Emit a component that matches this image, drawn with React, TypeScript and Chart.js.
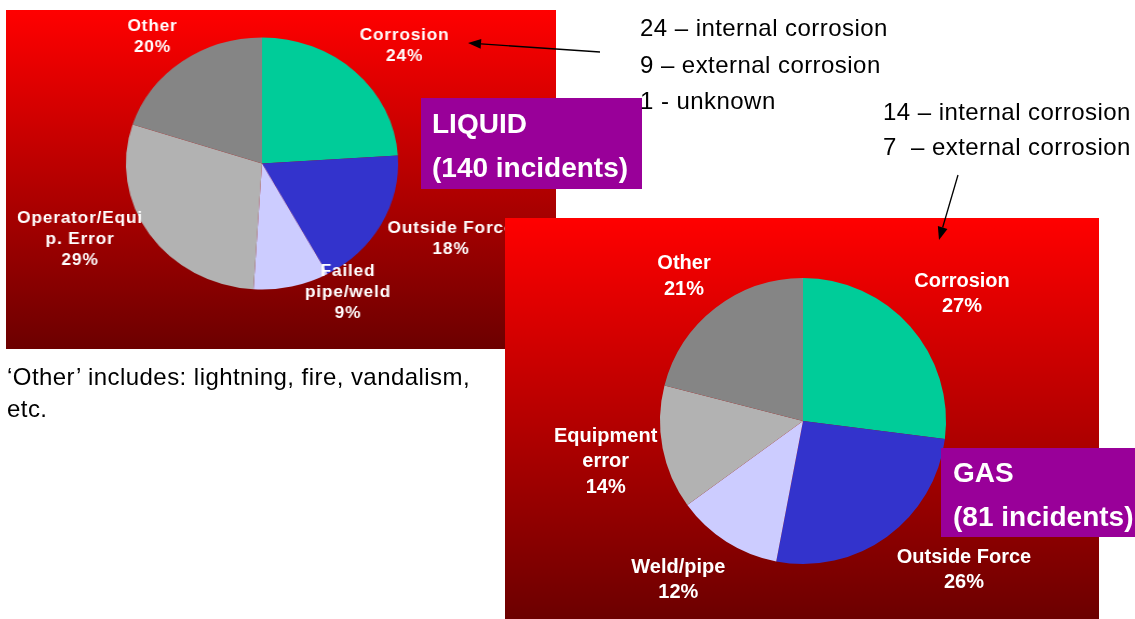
import React, { useEffect, useRef } from "react";
import { Chart, registerables } from "chart.js";

Chart.register(...registerables);

// ---- data ----
const liquidCategories = ["Corrosion", "Outside Force", "Failed\npipe/weld", "Operator/Equi\np. Error", "Other"];
const liquidValues = [24, 18, 9, 29, 20];
const gasCategories = ["Corrosion", "Outside Force", "Weld/pipe", "Equipment\nerror", "Other"];
const gasValues = [27, 26, 12, 14, 21];
const liquidTitle = ["LIQUID", "(140 incidents)"];
const gasTitle = ["GAS", "(81 incidents)"];
const liquidNotes = ["24 \u2013 internal corrosion", "9 \u2013 external corrosion", "1 - unknown"];
const gasNotes = ["14 \u2013 internal corrosion", "7  \u2013 external corrosion"];
const footNote = ["\u2018Other\u2019 includes: lightning, fire, vandalism,", "etc."];

// ---- styles / layout ----
const sliceColors = ["#00CC99", "#3333CC", "#CCCCFF", "#B2B2B2", "#858585"];
const liquidLabelOffsets: [number, number][] = [
  [132, -124],
  [175, 69.5],
  [79.6, 112.5],
  [-168.5, 59.5],
  [-101.4, -132.5],
];
const gasLabelOffsets: [number, number][] = [
  [159, -134.3],
  [161, 141.7],
  [-124.7, 151.7],
  [-197.3, 20.7],
  [-119, -151.7],
];
const FONT = "'Liberation Sans', Arial, Helvetica, sans-serif";

type PieProps = {
  labels: string[];
  values: number[];
  width: number;
  height: number;
  padding: { left: number; right: number; top: number; bottom: number };
  offsets: [number, number][];
  font: string;
  lineH: number;
  spacing: string;
  canvasStyle?: React.CSSProperties;
};

function PieChart({ labels, values, width, height, padding, offsets, font, lineH, spacing, canvasStyle }: PieProps) {
  const ref = useRef<HTMLCanvasElement>(null);
  useEffect(() => {
    if (!ref.current) return;
    const total = values.reduce((a, b) => a + b, 0);
    const labelPlugin = {
      id: "sliceLabels",
      afterDatasetsDraw(chart: any) {
        const ctx = chart.ctx as CanvasRenderingContext2D;
        const meta = chart.getDatasetMeta(0);
        ctx.save();
        ctx.font = font;
        ctx.fillStyle = "#ffffff";
        ctx.textAlign = "center";
        ctx.textBaseline = "alphabetic";
        (ctx as any).letterSpacing = spacing;
        meta.data.forEach((arc: any, i: number) => {
          const lines = [...labels[i].split("\n"), Math.round((values[i] / total) * 100) + "%"];
          const [dx, dy] = offsets[i];
          lines.forEach((t, k) => ctx.fillText(t, arc.x + dx, arc.y + dy + k * lineH));
        });
        ctx.restore();
      },
    };
    const chart = new Chart(ref.current, {
      type: "pie",
      data: {
        labels: labels.map((l) => l.replace("\n", "")),
        datasets: [
          {
            data: values,
            backgroundColor: sliceColors,
            borderWidth: 0,
            hoverBorderWidth: 0,
            hoverOffset: 0,
          } as any,
        ],
      },
      options: {
        responsive: false,
        maintainAspectRatio: false,
        animation: false,
        events: [],
        layout: { padding },
        plugins: { legend: { display: false }, tooltip: { enabled: false } },
      },
      plugins: [labelPlugin],
    });
    return () => chart.destroy();
  }, []);
  return (
    <canvas
      ref={ref}
      width={width}
      height={height}
      style={{ display: "block", position: "absolute", left: 0, top: 0, width, height, ...canvasStyle }}
    />
  );
}

function Arrow({ x1, y1, x2, y2 }: { x1: number; y1: number; x2: number; y2: number }) {
  const len = Math.hypot(x2 - x1, y2 - y1);
  const ux = (x2 - x1) / len;
  const uy = (y2 - y1) / len;
  const hl = 13;
  const hw = 5;
  const bx = x2 - ux * hl;
  const by = y2 - uy * hl;
  const pts = `${x2},${y2} ${bx - uy * hw},${by + ux * hw} ${bx + uy * hw},${by - ux * hw}`;
  return (
    <g>
      <line x1={x1} y1={y1} x2={bx} y2={by} stroke="#000" strokeWidth={1.3} />
      <polygon points={pts} fill="#000" />
    </g>
  );
}

export default function App() {
  const grad = "linear-gradient(to bottom, #ff0000 0%, #6c0000 100%)";
  return (
    <div style={{ position: "fixed", left: 0, top: 0, width: 1135, height: 619, background: "#fff", overflow: "hidden" }}>
      {/* Liquid panel */}
      <div style={{ position: "absolute", left: 6, top: 10, width: 550, height: 339, background: grad, overflow: "hidden" }}>
        <PieChart
          labels={liquidCategories}
          values={liquidValues}
          width={550}
          height={339}
          padding={{ left: 130, right: 168, top: 27.5, bottom: 59.5 }}
          offsets={liquidLabelOffsets}
          font={`bold 16px ${FONT}`}
          lineH={21}
          spacing="0.75px"
          canvasStyle={{ transform: "scaleX(1.08)", transformOrigin: "256px 50%" }}
        />
      </div>
      {/* Gas panel */}
      <div style={{ position: "absolute", left: 505, top: 218, width: 594, height: 401, background: grad, overflow: "hidden" }}>
        <PieChart
          labels={gasCategories}
          values={gasValues}
          width={594}
          height={401}
          padding={{ left: 155, right: 153, top: 60, bottom: 55 }}
          offsets={gasLabelOffsets}
          font={`bold 20px ${FONT}`}
          lineH={25.5}
          spacing="0px"
        />
      </div>
      <svg width={1135} height={619} style={{ position: "absolute", left: 0, top: 0, pointerEvents: "none" }}>
        <rect x={421} y={98} width={221} height={91} fill="#990099" />
        <text x={432} y={133} fill="#fff" fontFamily={FONT} fontWeight="bold" fontSize={28}>{liquidTitle[0]}</text>
        <text x={432} y={177} fill="#fff" fontFamily={FONT} fontWeight="bold" fontSize={28}>{liquidTitle[1]}</text>
        <rect x={941} y={448} width={194} height={89} fill="#990099" />
        <text x={953} y={482} fill="#fff" fontFamily={FONT} fontWeight="bold" fontSize={28}>{gasTitle[0]}</text>
        <text x={953} y={526} fill="#fff" fontFamily={FONT} fontWeight="bold" fontSize={28}>{gasTitle[1]}</text>
        {liquidNotes.map((t, i) => (
          <text key={"ln" + i} x={640} y={36 + i * 36.5} fill="#000" fontFamily={FONT} fontSize={24} letterSpacing={0.45} style={{ whiteSpace: "pre" }}>{t}</text>
        ))}
        {gasNotes.map((t, i) => (
          <text key={"gn" + i} x={883} y={119.5 + i * 35.5} fill="#000" fontFamily={FONT} fontSize={24} letterSpacing={0.45} style={{ whiteSpace: "pre" }}>{t}</text>
        ))}
        {footNote.map((t, i) => (
          <text key={"fn" + i} x={7} y={385 + i * 32} fill="#000" fontFamily={FONT} fontSize={24} letterSpacing={0.45} style={{ whiteSpace: "pre" }}>{t}</text>
        ))}
        <Arrow x1={600} y1={52} x2={468} y2={43} />
        <Arrow x1={958} y1={175} x2={939} y2={240} />
      </svg>
    </div>
  );
}
